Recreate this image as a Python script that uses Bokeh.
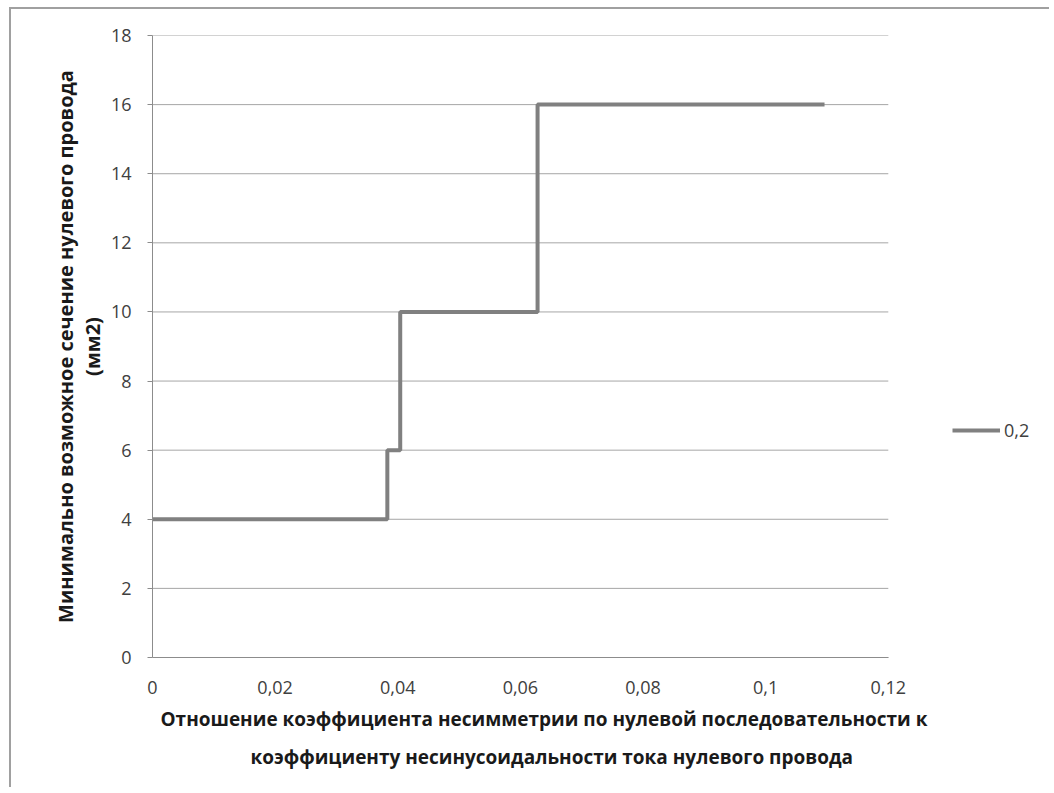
from bokeh.plotting import figure
from bokeh.models import Range1d, FixedTicker, CustomJSTickFormatter, Legend, LegendItem, Title
from bokeh.embed import file_html
from bokeh.resources import INLINE

# Data
x_values = [0.0, 0.0383, 0.0404, 0.0628, 0.1096]
y_values = [4, 6, 10, 16, 16]
series_name = "0,2"
x_ticks = [0, 0.02, 0.04, 0.06, 0.08, 0.1, 0.12]
y_ticks = [0, 2, 4, 6, 8, 10, 12, 14, 16, 18]
x_title_lines = ["Отношение коэффициента несимметрии по нулевой последовательности к",
                 "коэффициенту несинусоидальности тока нулевого провода"]
y_title_lines = ["Минимально возможное сечение нулевого провода", "(мм2)"]

FONT = "Open Sans"
TXT = "#404040"
TITLE_C = "#1a1a1a"

x_min, x_max = x_ticks[0], x_ticks[-1]
# the plot frame extends to the right to leave room for the legend; axis stops at x_max
x_view_end = 0.1458

p = figure(width=1040, height=780, output_backend="svg", toolbar_location=None,
           x_range=Range1d(x_min, x_view_end), y_range=Range1d(y_ticks[0], y_ticks[-1]),
           min_border_left=141, min_border_right=5, min_border_top=26, min_border_bottom=132)
p.styles = {"margin-top": "7px", "margin-left": "9px",
            "border-top": "2px solid #A0A0A0", "border-left": "2px solid #A0A0A0"}
p.outline_line_color = None
p.background_fill_color = "white"
p.border_fill_color = "white"

# horizontal gridlines limited to the axis extent
p.xgrid.grid_line_color = None
p.ygrid.grid_line_color = None
p.segment(x0=[x_min] * len(y_ticks), x1=[x_max] * len(y_ticks), y0=y_ticks, y1=y_ticks,
          line_color="#A6A6A6", line_width=1)

r = p.step(x_values, y_values, mode="after", line_color="#808080", line_width=4)

p.xaxis.ticker = FixedTicker(ticks=x_ticks)
p.yaxis.ticker = FixedTicker(ticks=y_ticks)
p.xaxis.bounds = (x_min, x_max)
fmt = CustomJSTickFormatter(code="return (Math.round(tick*100)/100).toString().replace('.', ',');")
p.xaxis.formatter = fmt
p.yaxis.formatter = fmt

for ax in (p.xaxis, p.yaxis):
    ax.axis_line_color = "#8C8C8C"
    ax.axis_line_width = 1
    ax.major_tick_in = 0
    ax.minor_tick_line_color = None
    ax.major_tick_line_color = "#8C8C8C"
    ax.major_label_text_font = FONT
    ax.major_label_text_font_size = "18px"
    ax.major_label_text_color = TXT

p.xaxis.major_tick_out = 0
p.xaxis.major_label_standoff = 23
p.yaxis.major_tick_out = 5
p.yaxis.major_label_standoff = 16

# axis titles (x: below, y: left), placed as in the reference
for line, sd, off in zip(x_title_lines, [14, 6], [8, 98]):
    t = Title(text=line, align="left", offset=off, standoff=sd,
              text_font=FONT, text_font_size="19px", text_font_style="bold", text_color=TITLE_C)
    p.add_layout(t, "below")
# y title: line nearest the axis first
for line, sd, va in zip(reversed(y_title_lines), [0, 0], ["top", "bottom"]):
    t = Title(text=line, align="center", offset=0, standoff=sd, vertical_align=va,
              text_font=FONT, text_font_size="20px", text_font_style="bold", text_color=TITLE_C)
    p.add_layout(t, "left")

legend = Legend(items=[LegendItem(label=series_name, renderers=[r])],
                location=(800, 215), orientation="vertical",
                padding=0, margin=0, spacing=0,
                glyph_width=48, glyph_height=20, label_height=20, label_standoff=4,
                label_text_font=FONT, label_text_font_size="18px", label_text_color=TXT,
                background_fill_alpha=0, border_line_color=None)
p.add_layout(legend)

open("out.html", "w").write(file_html(p, INLINE))
